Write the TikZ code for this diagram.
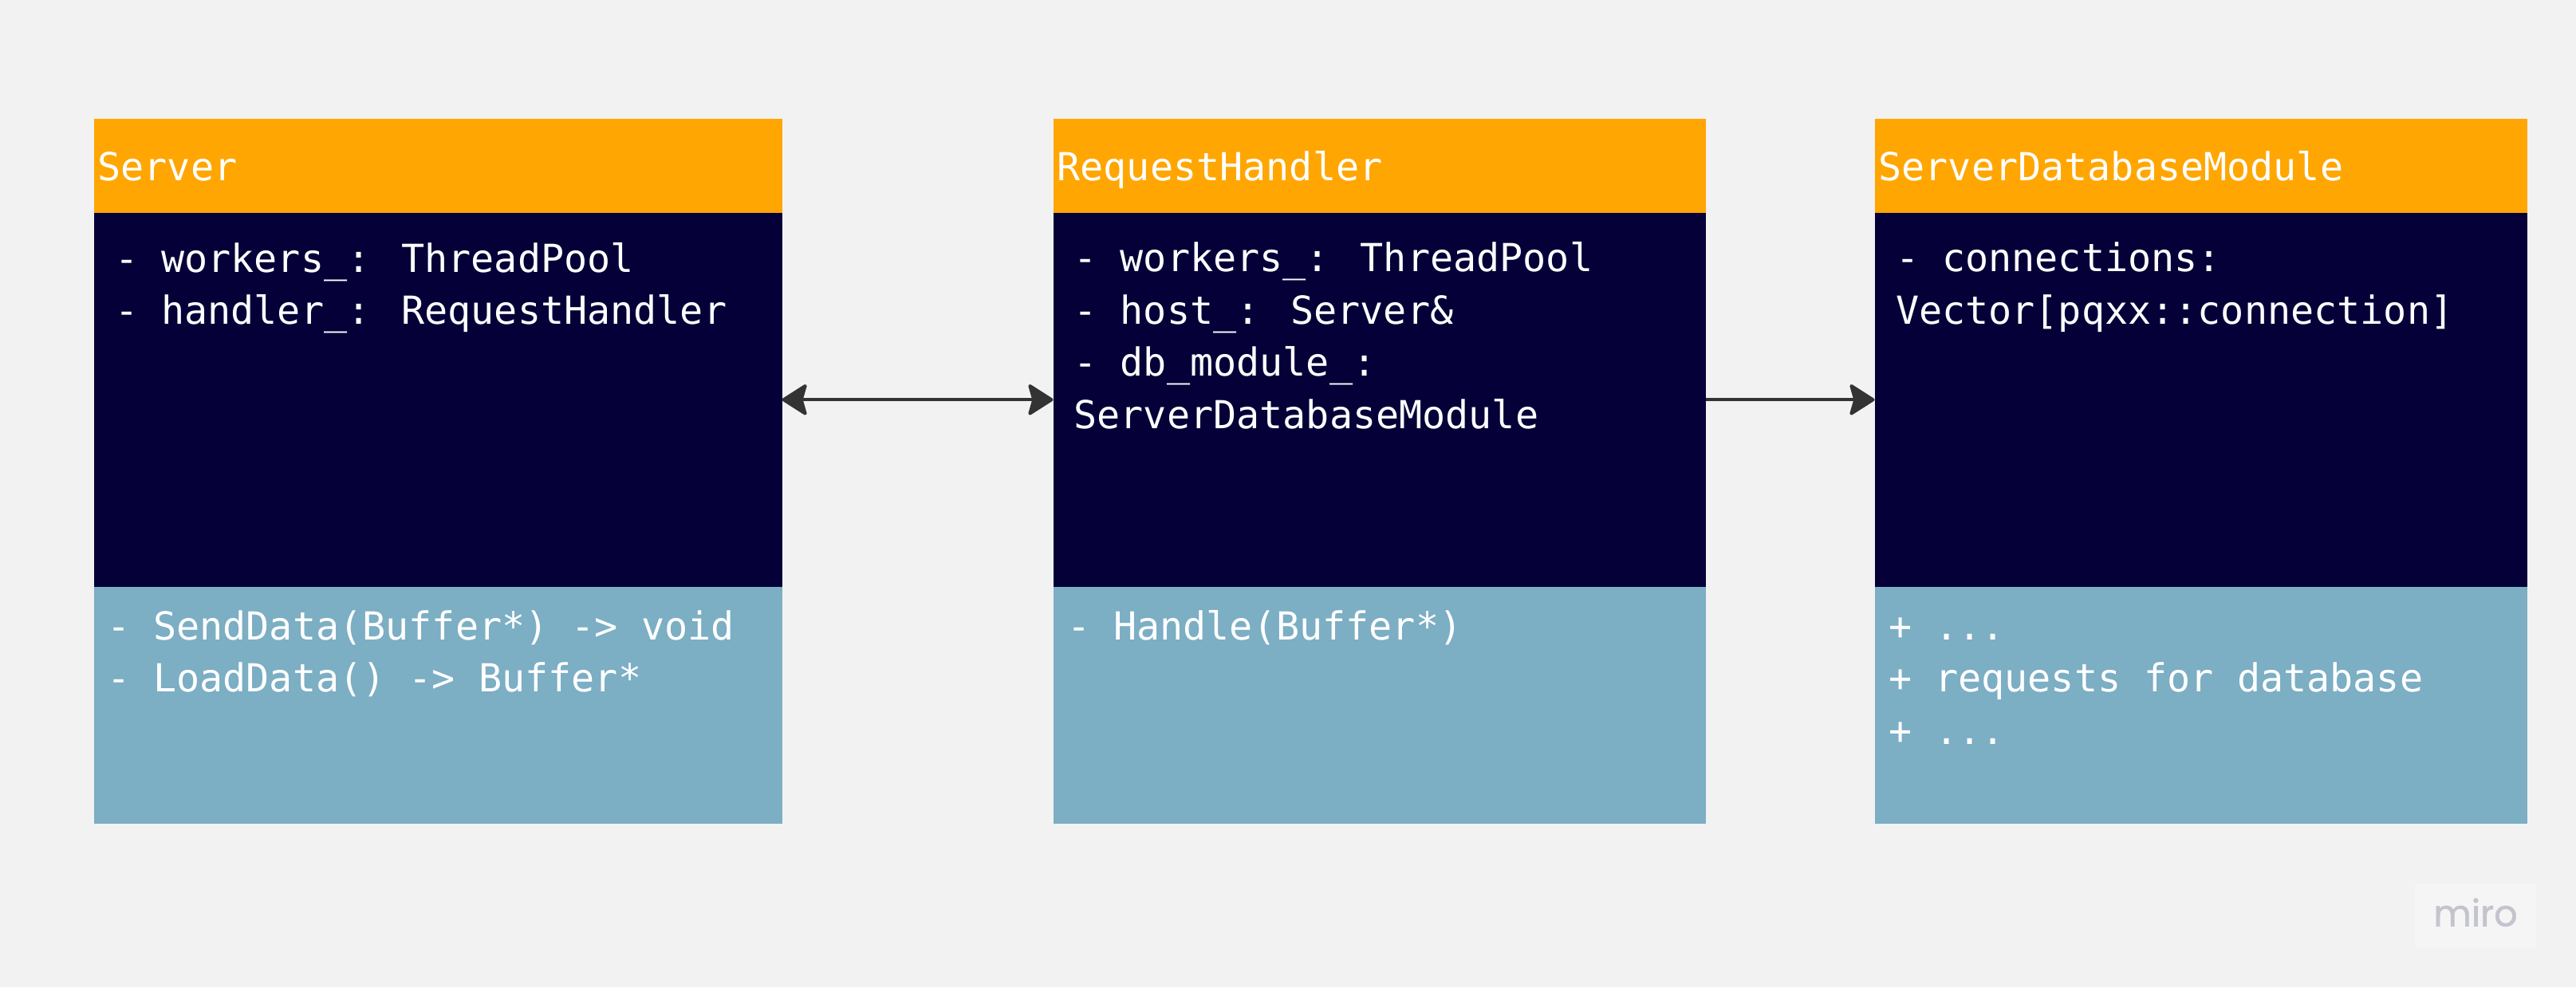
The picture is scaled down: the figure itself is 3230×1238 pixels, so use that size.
\documentclass[tikz,border=0pt]{standalone}
\usepackage{fontspec}
\usetikzlibrary{arrows.meta}
\newfontfamily\codefont{DejaVu Sans Mono}
\newfontfamily\logofont{Poppins}[FakeBold=1.2]
\definecolor{bgc}{HTML}{F2F2F2}
\definecolor{hdrc}{HTML}{FFA602}
\definecolor{bodyc}{HTML}{050038}
\definecolor{methc}{HTML}{7CAEC4}
\definecolor{arrc}{HTML}{333333}
\definecolor{logoc}{HTML}{C4C4CF}
\definecolor{logobg}{HTML}{F5F5F6}
\begin{document}
\begin{tikzpicture}[x=0.5pt,y=-0.5pt,
  part/.style={draw=none,inner sep=0pt,outer sep=0pt,anchor=north west},
  hdr/.style={part,fill=hdrc},
  bdy/.style={part,fill=bodyc},
  mth/.style={part,fill=methc},
  txt/.style={inner sep=0pt,outer sep=0pt,anchor=base west,text=white,
    font=\codefont\fontsize{24.2}{30}\selectfont},
  conn/.style={draw=arrc,line width=2pt,
    arrows={-Stealth[length=17pt,width=21.5pt,inset=3pt,round]}},
  conn2/.style={draw=arrc,line width=2pt,
    arrows={Stealth[length=17pt,width=21.5pt,inset=3pt,round]-Stealth[length=17pt,width=21.5pt,inset=3pt,round]}}
]
\useasboundingbox[fill=bgc] (0,0) rectangle (3230,1238);

% Server
\node[hdr,minimum width=431.5pt,minimum height=58.75pt] (sh) at (117.5,149) {};
\node[bdy,minimum width=431.5pt,minimum height=234.75pt] (sb) at (117.5,266.5) {};
\node[mth,minimum width=431.5pt,minimum height=148.5pt] (sm) at (117.5,736) {};
\node[txt] (sht) at (122.5,226) {Server};
\node[txt] (sb1) at (144,341) {- workers\_: ThreadPool};
\node[txt] (sb2) at (144,406.5) {- handler\_: RequestHandler};
\node[txt] (sm1) at (134,802) {- SendData(Buffer*) -> void};
\node[txt] (sm2) at (134,867.5) {- LoadData() -> Buffer*};

% RequestHandler
\node[hdr,minimum width=409pt,minimum height=58.75pt] (rh) at (1320.5,149) {};
\node[bdy,minimum width=409pt,minimum height=234.75pt] (rb) at (1320.5,266.5) {};
\node[mth,minimum width=409pt,minimum height=148.5pt] (rm) at (1320.5,736) {};
\node[txt] (rht) at (1325.5,226) {RequestHandler};
\node[txt] (rb1) at (1346.5,340.5) {- workers\_: ThreadPool};
\node[txt] (rb2) at (1346.5,406) {- host\_: Server\&};
\node[txt] (rb3) at (1346.5,471.5) {- db\_module\_:};
\node[txt] (rb4) at (1346.5,537) {ServerDatabaseModule};
\node[txt] (rm1) at (1338,802) {- Handle(Buffer*)};

% ServerDatabaseModule
\node[hdr,minimum width=409.25pt,minimum height=58.75pt] (dh) at (2350.5,149) {};
\node[bdy,minimum width=409.25pt,minimum height=234.75pt] (db) at (2350.5,266.5) {};
\node[mth,minimum width=409.25pt,minimum height=148.5pt] (dm) at (2350.5,736) {};
\node[txt] (dht) at (2355.5,226) {ServerDatabaseModule};
\node[txt] (db1) at (2377,340.5) {- connections:};
\node[txt] (db2) at (2377,406) {Vector[pqxx::connection]};
\node[txt] (dm1) at (2368,802) {+ ...};
\node[txt] (dm2) at (2368,867.5) {+ requests for database};
\node[txt] (dm3) at (2368,933) {+ ...};

% connectors
\draw[conn2] (sb.east) -- (rb.west);
\draw[conn] (rb.east) -- (db.west);

% watermark
\node[part,fill=logobg,minimum width=76pt,minimum height=40pt] (lg) at (3028,1108) {};
\node[inner sep=0pt,anchor=base,text=logoc,font=\logofont\fontsize{23}{23}\selectfont] (lgt) at (3104,1161.5) {miro};
\end{tikzpicture}
\end{document}
